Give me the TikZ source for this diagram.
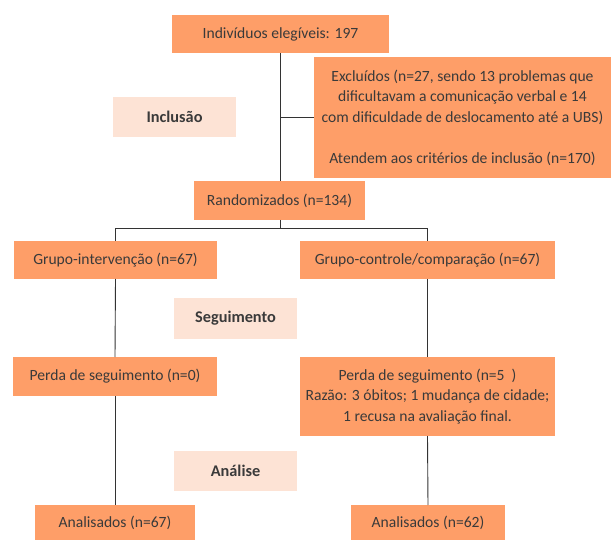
\documentclass[tikz,border=0pt]{standalone}
\usepackage{fontspec}
\setmainfont{Carlito}
\definecolor{boxorange}{HTML}{FE9E68}
\definecolor{boxpeach}{HTML}{FDE3D5}
\definecolor{txtgray}{HTML}{3A3A3A}
\definecolor{linegray}{HTML}{333333}
\begin{document}
\begin{tikzpicture}[x=1pt,y=-1pt,
  every node/.style={inner sep=0pt,outer sep=0pt,text=txtgray,align=center,
    font={\fontsize{15.6}{20.5}\selectfont}},
  obox/.style={fill=boxorange,draw=none,minimum width=#1},
  pbox/.style={fill=boxpeach,draw=none,minimum width=123pt,minimum height=40pt,
    font={\fontsize{16.3}{20}\selectfont\bfseries}},
  conn/.style={draw=linegray,line width=0.9pt}]
\useasboundingbox (0,0) rectangle (611,540);
\node[obox=217pt,minimum height=38pt] (top) at (280.5,34) {Indivíduos elegíveis: 197};
\node[obox=297pt,minimum height=121pt] (excl) at (462.5,117.5) {Excluídos (n=27, sendo 13 problemas que\\dificultavam a comunicação verbal e 14\\com dificuldade de deslocamento até a UBS)\\[20.5pt]Atendem aos critérios de inclusão (n=170)};
\node[pbox] (incl) at (174.5,117) {Inclusão};
\node[obox=171pt,minimum height=39pt] (rand) at (279.5,200.5) {Randomizados (n=134)};
\node[obox=203pt,minimum height=38pt] (gi) at (115.5,260) {Grupo-intervenção (n=67)};
\node[obox=255pt,minimum height=38pt] (gc) at (427.5,260) {Grupo-controle/comparação (n=67)};
\node[pbox,minimum height=41pt] (seg) at (235.5,318.5) {Seguimento};
\node[obox=204pt,minimum height=39pt] (pl) at (115,376.5) {Perda de seguimento (n=0)};
\node[obox=255pt,minimum height=79pt] (pr) at (427.5,396.5) {Perda de seguimento (n=5\ \ )\\Razão: 3 óbitos; 1 mudança de cidade;\\1 recusa na avaliação final.};
\node[pbox] (ana) at (235.5,471) {Análise};
\node[obox=159.5pt,minimum height=35pt] (al) at (115,522.5) {Analisados (n=67)};
\node[obox=153.5pt,minimum height=35pt] (ar) at (428,522.5) {Analisados (n=62)};
% connectors
\coordinate (tx) at (280.7,0);
\coordinate (bx) at (tx |- excl.west);
\draw[conn] (tx |- top.south) -- (tx |- rand.north);
\draw[conn] (bx) -- (excl.west);
\coordinate (rs) at (tx |- rand.south);
\coordinate (hy) at (0,228);
\coordinate (hl) at (gi.north |- hy);
\coordinate (hr) at (gc.north |- hy);
\coordinate (hm) at (tx |- hy);
\draw[conn] (rs) -- (hm);
\draw[conn] (gi.north) -- (hl) -- (hr) -- (gc.north);
\draw[conn] (gi.south) -- (pl.north);
\draw[conn] (pl.south) -- (al.north);
\draw[conn] (gc.south) -- (pr.north);
\draw[conn] (pr.south) -- (ar.north);
\end{tikzpicture}
\end{document}
